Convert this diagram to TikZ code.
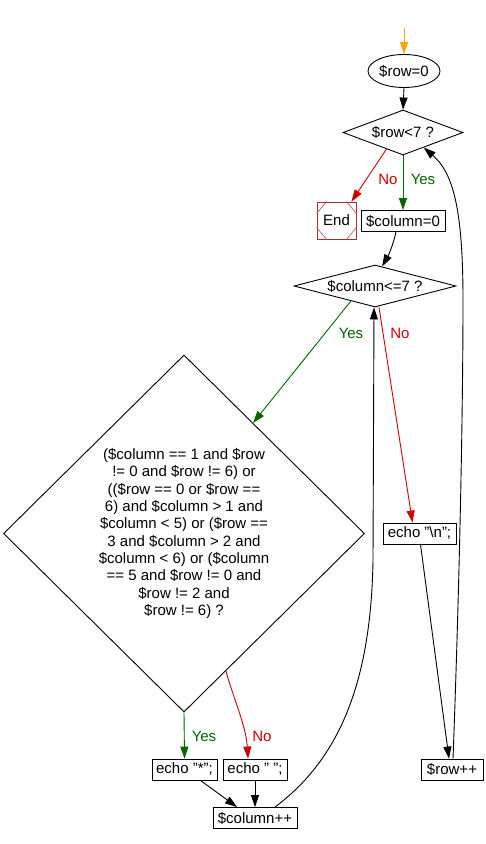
\documentclass[tikz,border=0pt]{standalone}
\usepackage{fontspec}
\setmainfont{Liberation Sans}
\usetikzlibrary{shapes.geometric,arrows.meta}
\definecolor{ygreen}{HTML}{006600}
\definecolor{nred}{HTML}{CC0000}
\definecolor{endred}{HTML}{993333}
\definecolor{endln}{HTML}{CC5555}
\definecolor{startor}{HTML}{FFA500}
\begin{document}
\begin{tikzpicture}[x=1pt,y=-1pt,line width=0.9pt,
  every node/.style={font=\fontsize{15}{17.3}\selectfont},
  box/.style={draw,rectangle,inner sep=0pt,minimum height=21pt},
  dec/.style={draw,diamond,inner sep=0pt},
  arr/.style={-{Triangle[length=12pt,width=8pt]}},
  yesl/.style={draw=ygreen,arr},
  nol/.style={draw=nred,arr},
  yest/.style={text=ygreen},
  not/.style={text=nred}]
\useasboundingbox (0,0) rectangle (485,844);
% nodes
\coordinate (start) at (404,28);
\node[draw,ellipse,inner sep=0pt,minimum width=72pt,minimum height=33pt] (row0) at (404,71) {\$row=0};
\node[dec,shape aspect=2.67,minimum width=120pt,minimum height=45pt] (c1) at (403,132.5) {\$row<7 ?};
\node[draw=endred,rectangle,inner sep=0pt,minimum width=39pt,minimum height=37pt] (endb) at (336.5,220.5) {End};
\node[box,minimum width=84pt] (col0) at (403,221) {\$column=0};
\node[dec,shape aspect=3.86,minimum width=162pt,minimum height=42pt] (c2) at (375,286) {\$column<=7 ?};
\node[dec,minimum width=361pt,minimum height=357pt,align=center] (big) at (184,533.5)
 {(\$column == 1 and \$row\\
  != 0 and \$row != 6) or\\
  ((\$row == 0 or \$row ==\\
  6) and \$column > 1 and\\
  \$column < 5) or (\$row ==\\
  3 and \$column > 2 and\\
  \$column < 6) or (\$column\\
  == 5 and \$row != 0 and\\
  \$row != 2 and\\
  \$row != 6) ?};
\node[box,minimum width=65pt] (echos) at (184.5,769.5) {echo "*";};
\node[box,minimum width=64pt] (echosp) at (255,769.5) {echo "\ ";};
\node[box,minimum width=84pt] (colpp) at (255,818) {\$column++};
\node[box,minimum width=73pt] (echon) at (419.5,533.5) {echo "\textbackslash n";};
\node[box,minimum width=62pt] (rowpp) at (452,769.5) {\$row++};
% labels
\node[not] (lno1) at (388,179) {No};
\node[yest] (lyes1) at (423,179) {Yes};
\node[yest] (lyes2) at (351,333) {Yes};
\node[not] (lno2) at (400,333) {No};
\node[yest] (lyes3) at (204,736) {Yes};
\node[not] (lno3) at (262,736) {No};
% End decoration
\draw[endln,line width=0.7pt] ([xshift=10pt]endb.north west) -- ([yshift=-12pt]endb.north west)
  ([xshift=-10pt]endb.north east) -- ([yshift=-12pt]endb.north east)
  ([xshift=10pt]endb.south west) -- ([yshift=12pt]endb.south west)
  ([xshift=-10pt]endb.south east) -- ([yshift=12pt]endb.south east);
% connectors
\draw[arr,draw=startor] (start) -- (row0.north);
\draw[arr] (row0.south) -- (c1.north);
\draw[nol] (c1.-135) -- ([xshift=-5pt]endb.north east);
\draw[yesl] (c1.south) -- (col0.north);
\draw[arr] ([xshift=-7pt]col0.south) .. controls (393,246) and (388,256) .. (c2.70);
\draw[yesl] (c2.-148) -- (big.58);
\draw[nol] ([xshift=4pt]c2.south) -- ([xshift=-7pt]echon.north);
\draw[yesl] (big.south) -- (echos.north);
\draw[nol] (big.-73.6) .. controls (232,695) and (246,725) .. ([xshift=-7pt]echosp.north);
\draw[arr] ([xshift=16pt]echos.south) -- ([xshift=-18pt]colpp.north);
\draw[arr] (echosp.south) -- (colpp.north);
\draw[arr] ([xshift=20pt]colpp.north) .. controls (335,762) and (371,690) .. (373,560) -- ([xshift=-1pt]c2.south);
\draw[arr] ([xshift=1pt]echon.south) -- ([xshift=-3pt]rowpp.north);
\draw[arr] ([xshift=1pt]rowpp.north) .. controls (459,600) and (463,420) .. (463,300) .. controls (463,205) and (452,172) .. (c1.-36);
\end{tikzpicture}
\end{document}
